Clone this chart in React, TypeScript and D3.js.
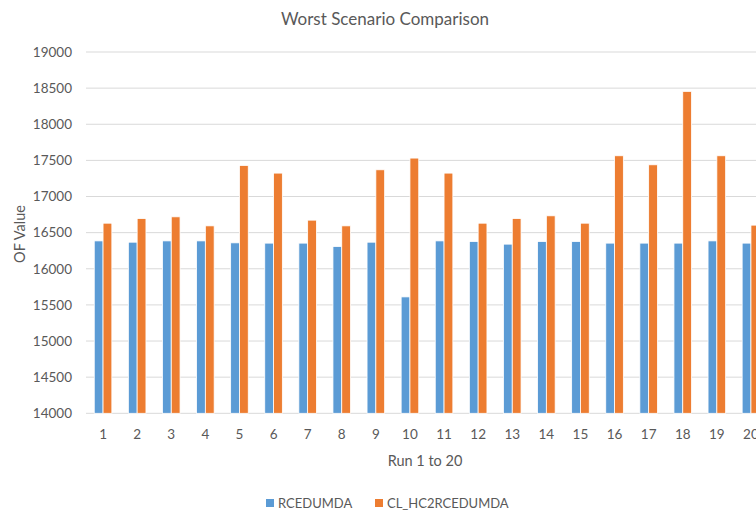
import React from 'react';
import * as d3 from 'd3';

const runs = ['1', '2', '3', '4', '5', '6', '7', '8', '9', '10', '11', '12', '13', '14', '15', '16', '17', '18', '19', '20'];
const seriesNames = ['RCEDUMDA', 'CL_HC2RCEDUMDA'];
const rcedumda = [16386, 16368, 16386, 16386, 16359, 16355, 16355, 16308, 16368, 15611, 16386, 16377, 16341, 16377, 16377, 16355, 16355, 16355, 16386, 16355];
const clHc2 = [16631, 16695, 16719, 16594, 17430, 17324, 16673, 16594, 17370, 17532, 17324, 16631, 16695, 16733, 16631, 17564, 17439, 18455, 17564, 16604];
const yTicks = [14000, 14500, 15000, 15500, 16000, 16500, 17000, 17500, 18000, 18500, 19000];
const colors = ['#5B9BD5', '#ED7D31'];

const W = 756;
const H = 513;
const font = 'Lato, "Open Sans", sans-serif';
const textColor = '#595959';

export default function App() {
  // plot area runs past the right edge, as in the cropped original
  const x0 = d3.scaleBand<string>().domain(runs).range([86, 768]);
  const y = d3.scaleLinear().domain([14000, 19000]).range([413.3, 52]);
  const groupW = 17.6;
  const x1 = d3.scaleBand<string>().domain(seriesNames).range([0, groupW]);
  const values = [rcedumda, clHc2];

  return (
    <svg width={W} height={H} style={{ position: 'absolute', left: 0, top: 0, background: '#fff' }}>
      <text x={385} y={25} textAnchor="middle" fontFamily={font} fontSize={17} fill={textColor}>
        Worst Scenario Comparison
      </text>

      {yTicks.map(t => (
        <g key={t}>
          <line x1={86} x2={W} y1={y(t)} y2={y(t)} stroke="#d9d9d9" strokeWidth={1} />
          <text x={72} y={y(t)} dy="0.35em" textAnchor="end" fontFamily={font} fontSize={13.5} fill={textColor}>
            {t}
          </text>
        </g>
      ))}

      {runs.map((r, i) => {
        const gx = (x0(r) as number) + (x0.bandwidth() - groupW) / 2;
        return (
          <g key={r}>
            {seriesNames.map((s, k) => {
              const v = values[k][i];
              return (
                <rect
                  key={s}
                  x={gx + (x1(s) as number)}
                  y={y(v)}
                  width={x1.bandwidth()}
                  height={y(14000) - y(v)}
                  fill={colors[k]}
                  stroke="#fff"
                  strokeWidth={0.8}
                />
              );
            })}
            <text
              x={(x0(r) as number) + x0.bandwidth() / 2}
              y={434}
              dy="0.35em"
              textAnchor="middle"
              fontFamily={font}
              fontSize={13.5}
              fill={textColor}
            >
              {r}
            </text>
          </g>
        );
      })}

      <text x={425} y={461} dy="0.35em" textAnchor="middle" fontFamily={font} fontSize={14.5} fill={textColor}>
        Run 1 to 20
      </text>
      <text
        transform={`translate(20,234) rotate(-90)`}
        dy="0.35em"
        textAnchor="middle"
        fontFamily={font}
        fontSize={14.5}
        fill={textColor}
      >
        OF Value
      </text>

      {seriesNames.map((s, k) => {
        const lx = k === 0 ? 266 : 375;
        return (
          <g key={s}>
            <rect x={lx} y={499} width={8} height={8} fill={colors[k]} />
            <text x={lx + 12} y={503} dy="0.35em" fontFamily={font} fontSize={13} fill={textColor}>
              {s}
            </text>
          </g>
        );
      })}
    </svg>
  );
}
